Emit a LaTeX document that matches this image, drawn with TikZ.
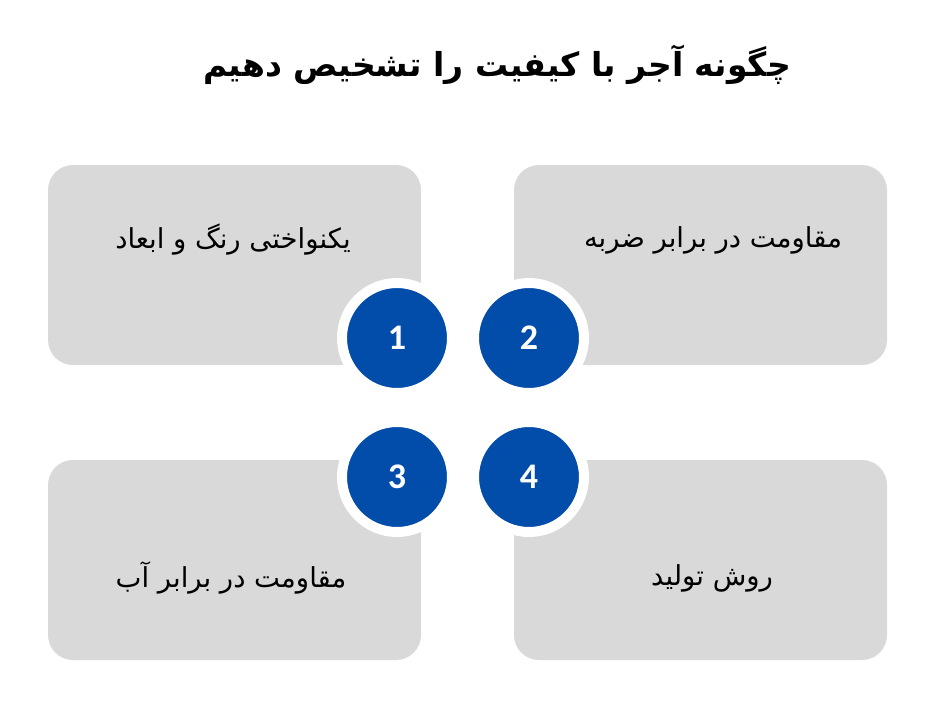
\documentclass[tikz,border=0pt]{standalone}
\usepackage{fontspec}
\setmainfont{Carlito}
\newfontfamily\arabicfont[Script=Arabic]{DejaVu Sans}
\TeXXeTstate=1
\usetikzlibrary{positioning}
\definecolor{boxgray}{HTML}{D9D9D9}
\definecolor{numblue}{HTML}{024CAA}

\begin{document}
\begin{tikzpicture}[x=1pt, y=-1pt,
				itembox/.style={rectangle, rounded corners=25pt, fill=boxgray, minimum width=373pt, minimum height=200pt, inner sep=0pt},
				itemtext/.style={font=\arabicfont\fontsize{27.5}{32}\selectfont, inner sep=0pt},
				numnode/.style={circle, fill=numblue, draw=white, line width=10pt, minimum size=110pt, inner sep=0pt, text=white, font=\bfseries\fontsize{36}{40}\selectfont},
				titlenode/.style={font=\arabicfont\bfseries\fontsize{33}{38}\selectfont, inner sep=0pt},
			]
			\useasboundingbox (0,0) rectangle (942,723);
			\node[titlenode] (title) at (497,65) {\beginR چگونه آجر با کیفیت را تشخیص دهیم\endR};
			\node[itembox] (box1) at (234.5,265) {};
			\node[itembox] (box2) at (700.5,265) {};
			\node[itembox] (box3) at (234.5,560) {};
			\node[itembox] (box4) at (700.5,560) {};
			\node[itemtext] (text1) at (233,240) {\beginR یکنواختی رنگ و ابعاد\endR};
			\node[itemtext] (text2) at (713,240) {\beginR مقاومت در برابر ضربه\endR};
			\node[itemtext] (text3) at (231,578) {\beginR مقاومت در برابر آب\endR};
			\node[itemtext] (text4) at (712,578) {\beginR روش تولید\endR};
			\node[numnode] (num1) at (397,338) {1};
			\node[numnode] (num2) [right=12pt of num1] {2};
			\node[numnode] (num3) at (397,477) {3};
			\node[numnode] (num4) [right=12pt of num3] {4};
			\end{tikzpicture}
\end{document}
